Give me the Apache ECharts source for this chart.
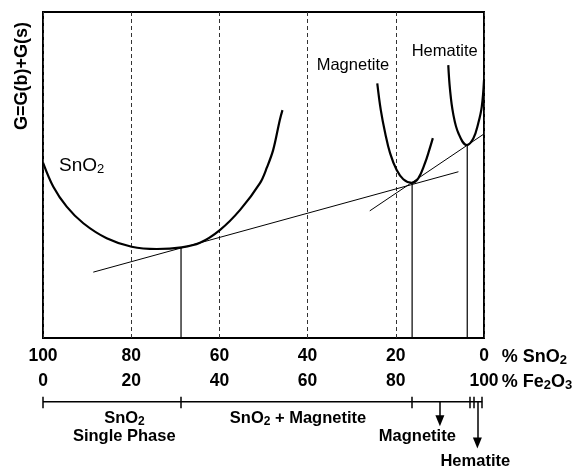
<!DOCTYPE html>
<html>
<head>
<meta charset="utf-8">
<script src="https://cdn.jsdelivr.net/npm/echarts@6/dist/echarts.min.js"></script>
<style>
  html, body { margin: 0; padding: 0; background: #fff; }
  #chart { width: 588px; height: 468px; }
</style>
</head>
<body>
<div id="chart"></div>
<script>
// Composition axis: % Fe2O3 (left 0 -> right 100); % SnO2 is its complement
const fe2o3Ticks = [0, 20, 40, 60, 80, 100];
const sno2Ticks = [100, 80, 60, 40, 20, 0];

// Free-energy curves G = G(b) + G(s), arbitrary units
const sno2X = [0, 2.34, 5.37, 9.14, 14.44, 20.1, 25.8, 31.45, 35.6, 40.1, 44.7, 49.2, 50.8, 52.2, 53.7, 54.3];
const sno2G = [53.8, 46.4, 40.3, 35.2, 30.6, 28.0, 27.3, 27.8, 29.2, 33.1, 39.3, 47.5, 52.4, 57.7, 66.9, 69.9];

const magX = [75.8, 76.6, 77.6, 78.7, 80.2, 81.7, 83.6, 85.1, 86.6, 87.6, 88.4];
const magG = [78.1, 69.9, 62.8, 56.7, 51.5, 48.7, 47.6, 49.0, 53.6, 57.7, 61.3];

const hemX = [91.9, 92.3, 93.0, 94.2, 96.1, 97.6, 98.7, 99.5, 100];
const hemG = [83.7, 76.1, 68.9, 62.8, 59.2, 61.3, 65.9, 71.0, 79.1];

// Common tangent lines
const tie1X = [11.4, 94.2];
const tie1G = [20.2, 51.0];
const tie2X = [74.1, 100];
const tie2G = [39.0, 62.6];

// Tangent points (phase boundaries)
const boundaryX = [31.3, 83.7, 96.2];
const boundaryG = [27.6, 47.5, 59.1];

// Phase bracket below the axis
const bracketTicks = [0, 31.3, 83.7, 96.8, 97.7, 99.6];
const magnetiteArrowX = 90.0;
const hematiteArrowX = 98.5;

const FONT = '"Liberation Sans", Arial, Helvetica, sans-serif';
const zip = (xs, ys) => xs.map((x, i) => [x, ys[i]]);

const chart = echarts.init(document.getElementById('chart'), null, { renderer: 'canvas' });

const curveStyle = { color: '#000', width: 2.2 };
const thinStyle = { color: '#000', width: 1 };

const series = [
  { name: 'SnO2', type: 'line', data: zip(sno2X, sno2G), smooth: 0.35, showSymbol: false, symbol: 'none', lineStyle: curveStyle, z: 5 },
  { name: 'Magnetite', type: 'line', data: zip(magX, magG), smooth: 0.4, showSymbol: false, symbol: 'none', lineStyle: curveStyle, z: 5 },
  { name: 'Hematite', type: 'line', data: zip(hemX, hemG), smooth: 0.4, showSymbol: false, symbol: 'none', lineStyle: curveStyle, z: 5 },
  { name: 'tie1', type: 'line', data: zip(tie1X, tie1G), symbol: 'none', lineStyle: thinStyle, z: 4 },
  { name: 'tie2', type: 'line', data: zip(tie2X, tie2G), symbol: 'none', lineStyle: thinStyle, z: 4 }
];

boundaryX.forEach((x, i) => {
  series.push({
    name: 'drop' + i, type: 'line', symbol: 'none',
    data: [[x, 0], [x, boundaryG[i]]],
    lineStyle: { color: '#000', width: 1.2 }, z: 4
  });
});

// Bracket: horizontal bar, end ticks and arrows (second grid)
const BAR_Y = 11.7, TICK_TOP = 6.7, TICK_BOTTOM = 18.3;
const tickLines = bracketTicks.map(t => [
  { coord: [t, TICK_TOP], symbol: 'none' },
  { coord: [t, TICK_BOTTOM], symbol: 'none' }
]);
const arrowLines = [
  [{ coord: [magnetiteArrowX, BAR_Y], symbol: 'none' }, { coord: [magnetiteArrowX, 30.7], symbol: 'triangle', symbolSize: [9, 11] }],
  [{ coord: [hematiteArrowX, BAR_Y], symbol: 'none' }, { coord: [hematiteArrowX, 53], symbol: 'triangle', symbolSize: [9, 11] }]
];
series.push({
  name: 'bracket', type: 'line', xAxisIndex: 1, yAxisIndex: 1, symbol: 'none',
  data: [[bracketTicks[0], BAR_Y], [bracketTicks[bracketTicks.length - 1], BAR_Y]],
  lineStyle: { color: '#000', width: 1.5 },
  markLine: {
    silent: true, animation: false,
    symbol: ['none', 'none'],
    label: { show: false },
    lineStyle: { color: '#000', width: 1.5, type: 'solid' },
    emphasis: { disabled: true },
    data: tickLines.concat(arrowLines)
  }
});

function txt(text, x, y, opts) {
  return {
    type: 'text', x: x, y: y, silent: true, z: 10,
    rotation: opts.rotation || 0,
    style: Object.assign({
      text: text, fill: '#000', fontFamily: FONT,
      align: opts.align || 'left', verticalAlign: 'middle'
    }, opts.style)
  };
}

const subRich = (size, weight, sub) => ({
  m: { fontSize: size, fontWeight: weight, fontFamily: FONT, lineHeight: size + 3, verticalAlign: 'bottom', fill: '#000' },
  s: { fontSize: sub, fontWeight: weight, fontFamily: FONT, lineHeight: sub, verticalAlign: 'bottom', fill: '#000' }
});

const option = {
  animation: false,
  backgroundColor: '#fff',
  grid: [
    { left: 43, top: 12, width: 441, height: 326, show: true, borderColor: '#000', borderWidth: 2, backgroundColor: 'transparent' },
    { left: 43, top: 390, width: 441, height: 70 }
  ],
  xAxis: [
    {
      gridIndex: 0, type: 'value', min: 0, max: 100, interval: 20,
      axisLine: { show: false }, axisTick: { show: false },
      splitLine: { show: true, lineStyle: { color: '#333', type: [4, 3], width: 1 } },
      axisLabel: {
        margin: 5.5, color: '#000', fontFamily: FONT, fontWeight: 'bold', fontSize: 17.5, lineHeight: 25,
        formatter: v => {
          const i = fe2o3Ticks.indexOf(v);
          return i < 0 ? '' : sno2Ticks[i] + '\n' + fe2o3Ticks[i];
        }
      }
    },
    { gridIndex: 1, type: 'value', min: 0, max: 100, show: false }
  ],
  yAxis: [
    { gridIndex: 0, type: 'value', min: 0, max: 100, show: false },
    { gridIndex: 1, type: 'value', min: 0, max: 70, inverse: true, show: false }
  ],
  series: series,
  graphic: [
    txt('G=G(b)+G(s)', 21.7, 76, { align: 'center', rotation: Math.PI / 2, style: { fontSize: 18, fontWeight: 'bold' } }),
    txt('{m|SnO}{s|2}', 59, 164.5, { style: { rich: subRich(19, 'normal', 13) } }),
    txt('Magnetite', 316.7, 65.5, { style: { fontSize: 16.5 } }),
    txt('Hematite', 411.7, 51.5, { style: { fontSize: 16.5 } }),
    txt('{m|% SnO}{s|2}', 501.7, 356, { style: { rich: subRich(18, 'bold', 13) } }),
    txt('{m|% Fe}{s|2}{m|O}{s|3}', 501.7, 381, { style: { rich: subRich(18, 'bold', 13) } }),
    txt('{m|SnO}{s|2}', 124.5, 417.5, { align: 'center', style: { rich: subRich(16.5, 'bold', 12) } }),
    txt('Single Phase', 124.3, 436, { align: 'center', style: { fontSize: 16.5, fontWeight: 'bold' } }),
    txt('{m|SnO}{s|2}{m| + Magnetite}', 298, 417.5, { align: 'center', style: { rich: subRich(16.5, 'bold', 12) } }),
    txt('Magnetite', 417.3, 436, { align: 'center', style: { fontSize: 16.5, fontWeight: 'bold' } }),
    txt('Hematite', 475.3, 461, { align: 'center', style: { fontSize: 16.5, fontWeight: 'bold' } })
  ]
};

chart.setOption(option);
</script>
</body>
</html>
